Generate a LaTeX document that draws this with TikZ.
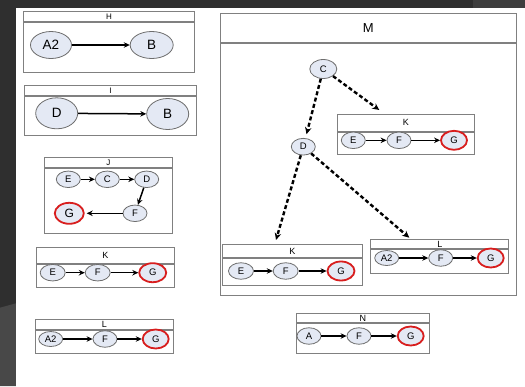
\documentclass[tikz,border=0pt]{standalone}
\usepackage{fontspec}
\setmainfont{Liberation Sans}
\usetikzlibrary{arrows.meta,positioning,shapes.geometric}
\definecolor{bgdark}{HTML}{2F2F2F}
\definecolor{bglight}{HTML}{484848}
\definecolor{bgtop}{HTML}{3E3E3E}
\definecolor{boxgray}{HTML}{808080}
\definecolor{nodegray}{HTML}{6E6E6E}
\definecolor{nodefill}{HTML}{E4E9F4}
\definecolor{goalred}{HTML}{D81E1E}

\begin{document}
\begin{tikzpicture}[x=1pt,y=-1pt,>={Stealth[length=6pt,width=5.5pt]},
  panel/.style={draw=boxgray,line width=0.9pt,fill=white,inner sep=0pt,anchor=north west,font=\fontsize{8}{9}\selectfont},
  ev/.style={ellipse,draw=nodegray,fill=nodefill,line width=0.8pt,inner sep=0pt,minimum width=24pt,minimum height=16.5pt,font=\fontsize{9.5}{10}\selectfont},
  bigev/.style={ev,minimum width=42pt,minimum height=28pt,font=\fontsize{13.5}{14}\selectfont},
  goal/.style={ev,draw=goalred,line width=1.8pt,minimum width=26pt,minimum height=19pt},
  link/.style={->,line width=1.5pt},
  dlink/.style={-{Stealth[length=7pt,width=6.5pt]},line width=2.4pt,dash pattern=on 4pt off 2.5pt}]
	% background
	\useasboundingbox (0,0) rectangle (525,386);
	\fill[bgdark] (0,0) rectangle (525,386);
	\fill[bgtop] (473,0) rectangle (525,8);
	\fill[bglight] (0,307.7) -- (16,303.3) -- (16,386) -- (0,386) -- cycle;
	\fill[white] (16,8) rectangle (525,386);

	% H
	\node[panel,minimum width=171.6pt,minimum height=10.6pt] (Ht) at (22.7,10.7) {H};
	\node[panel,minimum width=171.6pt,minimum height=49.7pt] (Hb) at (Ht.south west) {};
	\node[bigev,minimum width=41pt,minimum height=27pt] (hA2) at (51,45) {A2};
	\node[bigev,minimum width=43pt,minimum height=27pt] (hB) at (151.7,45) {B};
	\draw[link] (hA2) -- (hB);

	% I
	\node[panel,minimum width=171.4pt,minimum height=10.3pt] (It) at (24.3,85) {I};
	\node[panel,minimum width=171.4pt,minimum height=39pt] (Ib) at (It.south west) {};
	\node[bigev,minimum height=31pt] (iD) at (56.7,113.3) {D};
	\node[bigev,minimum height=31pt] (iB) at (167.7,114) {B};
	\draw[link] (iD) -- (iB);

	% J
	\node[panel,minimum width=127.4pt,minimum height=10.3pt] (Jt) at (44.3,157) {J};
	\node[panel,minimum width=127.4pt,minimum height=65pt] (Jb) at (Jt.south west) {};
	\node[ev] (jE) at (68.3,179.3) {E};
	\node[ev] (jC) at (107.3,179.3) {C};
	\node[ev] (jD) at (146.7,179.3) {D};
	\node[ev] (jF) at (135,213.3) {F};
	\node[goal,minimum width=29pt,minimum height=21pt,font=\fontsize{12}{12}\selectfont] (jG) at (69.3,213.3) {G};
	\draw[link] (jE) -- (jC);
	\draw[link] (jC) -- (jD);
	\draw[link] (jD) -- (jF);
	\draw[link,shorten >=2pt] (jF) -- (jG);

	% K
	\node[panel,minimum width=137.4pt,minimum height=16pt,font=\fontsize{9}{9}\selectfont] (Kt) at (36.3,246.7) {K};
	\node[panel,minimum width=137.4pt,minimum height=23.3pt] (Kb) at (Kt.south west) {};
	\node[ev,minimum width=25pt] (kE) at (52.7,272.7) {E};
	\node[ev,minimum width=25pt] (kF) at (97.7,272.7) {F};
	\node[goal,minimum width=27pt] (kG) at (152.7,272.7) {G};
	\draw[link] (kE) -- (kF);
	\draw[link] (kF) -- (kG);

	% L
	\node[panel,minimum width=138pt,minimum height=10.3pt,font=\fontsize{9}{9}\selectfont] (Lt) at (35,319) {L};
	\node[panel,minimum width=138pt,minimum height=22.7pt] (Lb) at (Lt.south west) {};
	\node[ev,minimum height=15pt] (lA2) at (50.7,339) {A2};
	\node[ev] (lF) at (105,339) {F};
	\node[goal] (lG) at (155.7,339) {G};
	\draw[link] (lA2) -- (lF);
	\draw[link] (lF) -- (lG);

	% M
	\node[panel,minimum width=295.5pt,minimum height=29pt,font=\fontsize{13}{13}\selectfont] (Mt) at (220,12.7) {M};
	\node[panel,minimum width=295.5pt,minimum height=252.6pt] (Mb) at (Mt.south west) {};
	\node[ev,minimum width=27pt,minimum height=19pt] (mC) at (323.3,69) {C};
	\node[ev,minimum height=16.7pt] (mD) at (303.3,146.7) {D};

	% K inside M, top
	\node[panel,minimum width=137.6pt,minimum height=16.7pt,font=\fontsize{9}{9}\selectfont] (KMt) at (336.7,114) {K};
	\node[panel,minimum width=137.6pt,minimum height=22.6pt] (KMb) at (KMt.south west) {};
	\node[ev] (kmE) at (353.3,140.3) {E};
	\node[ev] (kmF) at (399,140.3) {F};
	\node[goal] (kmG) at (454,140.3) {G};
	\draw[link] (kmE) -- (kmF);
	\draw[link] (kmF) -- (kmG);

	% K inside M, bottom
	\node[panel,minimum width=139.4pt,minimum height=12.4pt,font=\fontsize{9}{9}\selectfont] (KLt) at (222.3,244.3) {K};
	\node[panel,minimum width=139.4pt,minimum height=27.3pt] (KLb) at (KLt.south west) {};
	\node[ev,minimum width=25pt] (klE) at (241,271) {E};
	\node[ev,minimum width=25pt] (klF) at (285.7,271) {F};
	\node[goal,minimum width=27pt] (klG) at (341,271) {G};
	\draw[link] (klE) -- (klF);
	\draw[link] (klF) -- (klG);

	% L inside M
	\node[panel,minimum width=138pt,minimum height=9.6pt,font=\fontsize{9}{9}\selectfont] (LMt) at (370.3,238.7) {L};
	\node[panel,minimum width=138pt,minimum height=23.4pt] (LMb) at (LMt.south west) {};
	\node[ev,minimum height=15pt] (lmA2) at (386.7,258) {A2};
	\node[ev] (lmF) at (440.7,258) {F};
	\node[goal] (lmG) at (490.7,258) {G};
	\draw[link] (lmA2) -- (lmF);
	\draw[link] (lmF) -- (lmG);

	% dashed links in M
	\coordinate (toKM) at (379.3,110);
	\coordinate (toKL) at (276,240);
	\coordinate (toLM) at (409.3,237.7);
	\draw[dlink] (mC) -- (toKM);
	\draw[dlink,shorten >=4pt] (mC) -- (mD);
	\draw[dlink] (mD) -- (toKL);
	\draw[dlink] (mD) -- (toLM);

	% N
	\node[panel,minimum width=133pt,minimum height=9.6pt,font=\fontsize{9}{9}\selectfont] (Nt) at (296,312.7) {N};
	\node[panel,minimum width=133pt,minimum height=29.7pt] (Nb) at (Nt.south west) {};
	\node[ev] (nA) at (309,336) {A};
	\node[ev] (nF) at (359,336) {F};
	\node[goal] (nG) at (410.7,336) {G};
	\draw[link] (nA) -- (nF);
	\draw[link] (nF) -- (nG);
\end{tikzpicture}
\end{document}
